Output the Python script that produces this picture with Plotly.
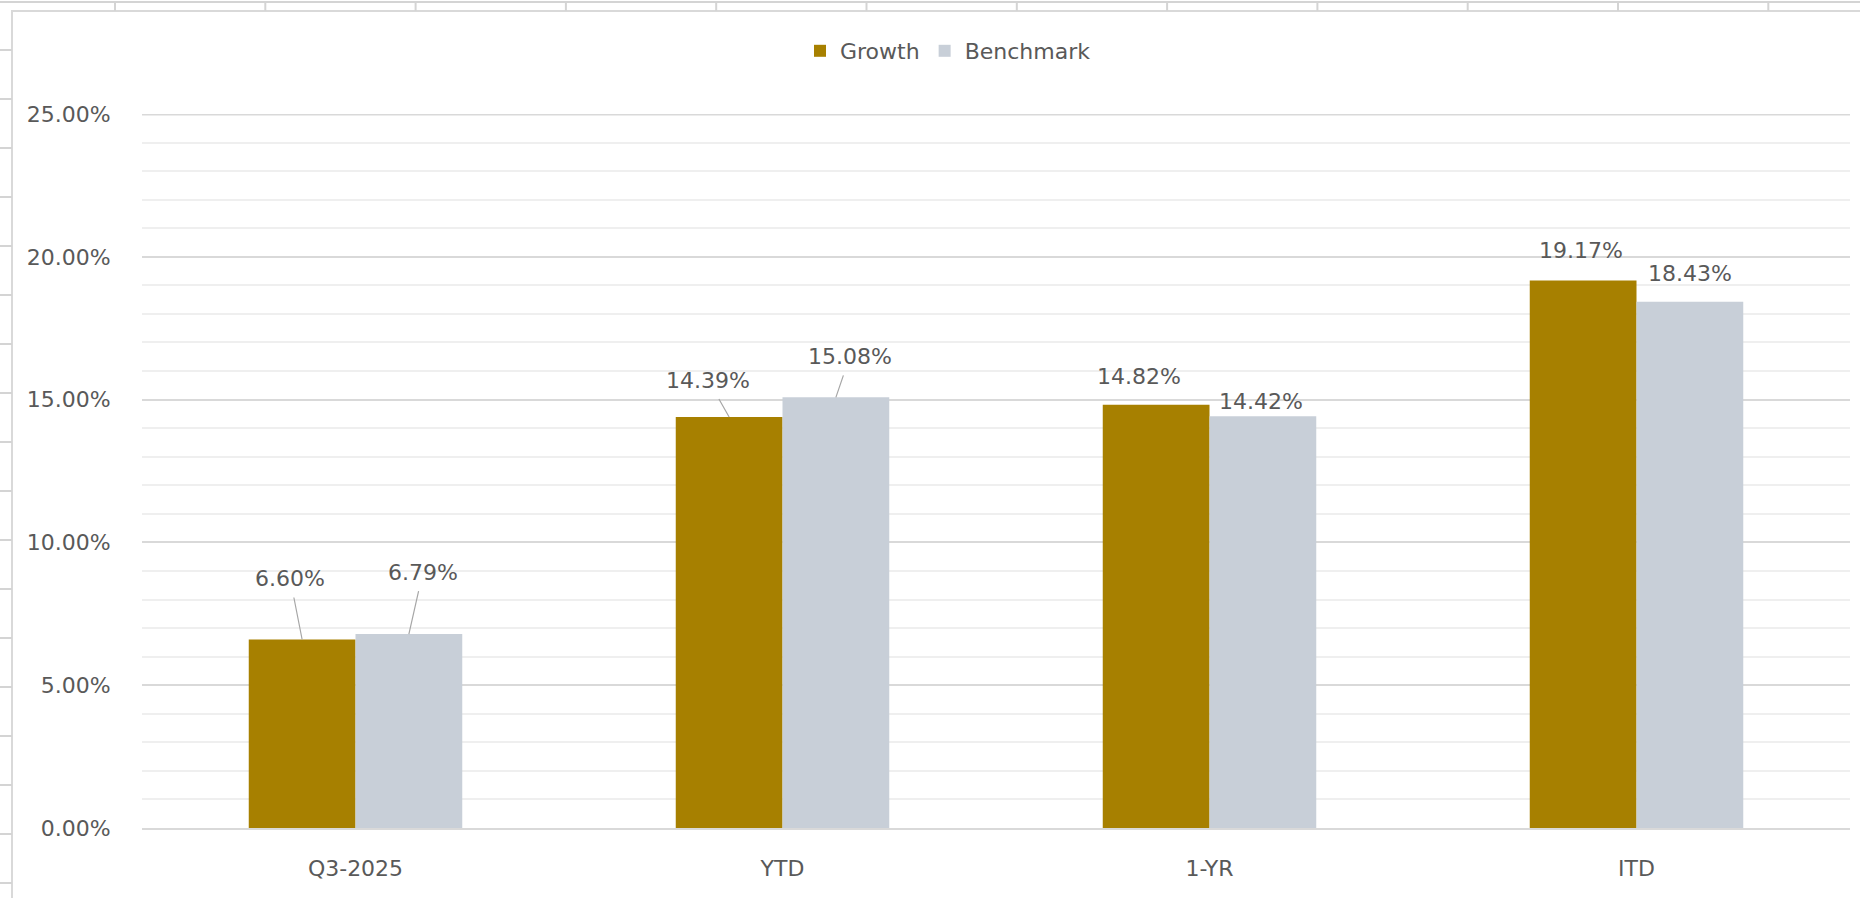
import plotly.graph_objects as go

# ---- data ----
categories = ["Q3-2025", "YTD", "1-YR", "ITD"]
growth = [6.60, 14.39, 14.82, 19.17]
benchmark = [6.79, 15.08, 14.42, 18.43]
series_names = ["Growth", "Benchmark"]
y_max = 25

# ---- style ----
W, H = 1860, 898
ML, MR, MT, MB = 142, 10, 114, 70
PW, PH = W - ML - MR, H - MT - MB
GOLD = "#A78000"
GREY = "#C8CFD8"
TXT = "#595959"
FONT = "DejaVu Sans"
FS = 22

def px_x(p):
    return (p - ML) / PW

def px_y(p):
    return (H - MB - p) / PH

fig = go.Figure()
fig.add_trace(go.Bar(x=categories, y=growth, name=series_names[0],
                     marker=dict(color=GOLD, line=dict(width=0))))
fig.add_trace(go.Bar(x=categories, y=benchmark, name=series_names[1],
                     marker=dict(color=GREY, line=dict(width=0))))

# data label placement (pixel offsets of label centre from bar-top centre)
g_off = [(-12, -61, True), (-21, -37, True), (-17, -28, False), (-2, -30, False)]
b_off = [(14, -62, True), (14, -41, True), (-2, -15, False), (0, -28, False)]

annotations = []
for vals, offs, shift in ((growth, g_off, -0.125), (benchmark, b_off, 0.125)):
    for i, (v, (ax, ay, arrow)) in enumerate(zip(vals, offs)):
        common = dict(x=i + shift, y=v, xref="x", yref="y", text=f"{v:.2f}%",
                      font=dict(family=FONT, size=FS, color=TXT))
        if arrow:
            annotations.append(dict(common, showarrow=True, arrowhead=0, arrowwidth=1.2,
                                    arrowcolor="#A6A6A6", ax=ax, ay=ay, standoff=0,
                                    borderpad=6))
        else:
            annotations.append(dict(common, showarrow=False, xshift=ax, yshift=-ay))

# spreadsheet background decoration
shapes = []
line_c = "#D4D4D4"
# top strip
shapes.append(dict(type="line", xref="paper", yref="paper", x0=px_x(0), x1=px_x(W),
                   y0=px_y(2), y1=px_y(2), line=dict(color=line_c, width=2)))
col0, colw = 115, 150.3
k = 0
while col0 + k * colw < W:
    xx = col0 + k * colw
    shapes.append(dict(type="line", xref="paper", yref="paper", x0=px_x(xx), x1=px_x(xx),
                       y0=px_y(2), y1=px_y(11), line=dict(color=line_c, width=2)))
    k += 1
# left strip
row0, rowh = 50, 49
k = 0
while row0 + k * rowh < H:
    yy = row0 + k * rowh
    shapes.append(dict(type="line", xref="paper", yref="paper", x0=px_x(0), x1=px_x(12),
                       y0=px_y(yy), y1=px_y(yy), line=dict(color=line_c, width=2)))
    k += 1
# chart area border
shapes.append(dict(type="rect", xref="paper", yref="paper", x0=px_x(12), x1=px_x(W + 5),
                   y0=px_y(H + 5), y1=px_y(11), line=dict(color="#D9D9D9", width=2),
                   layer="below"))
# top major gridline (at the range edge)
shapes.append(dict(type="line", xref="paper", yref="y", x0=0, x1=1, y0=y_max, y1=y_max,
                   line=dict(color="#D9D9D9", width=3), layer="below"))

fig.update_layout(
    width=W, height=H,
    margin=dict(l=ML, r=MR, t=MT, b=MB, autoexpand=False),
    paper_bgcolor="white", plot_bgcolor="white",
    barmode="group", bargap=0.5, bargroupgap=0,
    font=dict(family=FONT, size=FS, color=TXT),
    showlegend=True,
    legend=dict(orientation="h", x=px_x(800), xanchor="left", y=px_y(51), yanchor="middle",
                font=dict(family=FONT, size=FS, color=TXT), bgcolor="rgba(0,0,0,0)",
                itemclick=False),
    annotations=annotations,
    shapes=shapes,
)
fig.update_xaxes(type="category", showgrid=False, showline=True, linecolor="#D9D9D9",
                 linewidth=2, ticks="outside", ticklen=20, tickcolor="rgba(0,0,0,0)",
                 tickfont=dict(family=FONT, size=FS, color=TXT), zeroline=False)
fig.update_yaxes(range=[0, y_max], dtick=5, tick0=0, tickformat=".2f", ticksuffix="%",
                 showgrid=True, gridcolor="#D9D9D9", gridwidth=2,
                 minor=dict(dtick=1, showgrid=True, gridcolor="#EFEFEF", gridwidth=1.5),
                 zeroline=False, showline=False, ticks="outside", ticklen=26,
                 tickcolor="rgba(0,0,0,0)",
                 tickfont=dict(family=FONT, size=FS, color=TXT))

fig.write_html("out.html")
